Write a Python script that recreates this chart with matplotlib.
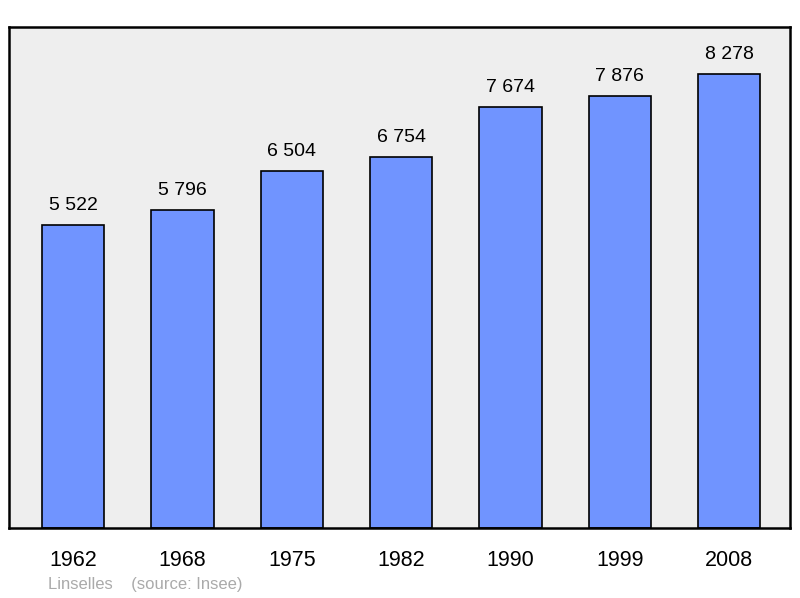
import matplotlib.pyplot as plt

years = ["1962", "1968", "1975", "1982", "1990", "1999", "2008"]
population = [5522, 5796, 6504, 6754, 7674, 7876, 8278]

plt.rcParams["font.family"] = ["Liberation Sans", "DejaVu Sans"]

fig = plt.figure(figsize=(8.0, 5.98), dpi=100)
ax = fig.add_axes([9 / 800, 1 - 528 / 598, 781 / 800, 501 / 598])
ax.set_facecolor("#eeeeee")

x = list(range(len(years)))
ax.bar(x, population, width=0.57, color="#7094ff", edgecolor="black", linewidth=1.2)
for xi, v in zip(x, population):
    label = f"{v:,}".replace(",", " ")
    ax.text(xi, v + 200, label, ha="center", va="bottom", fontsize=14)

ax.set_xlim(-0.585, 6.555)
ax.set_ylim(0, 9130)
ax.set_yticks([])
ax.set_xticks(x)
ax.set_xticklabels(years, fontsize=15.5)
ax.tick_params(axis="x", length=0, pad=16)
for s in ax.spines.values():
    s.set_linewidth(1.8)

fig.text(48 / 800, 1 - 584 / 598, "Linselles    (source: Insee)", color="#aaaaaa",
         fontsize=12, va="center", ha="left")

fig.savefig("out.png", dpi=100)
